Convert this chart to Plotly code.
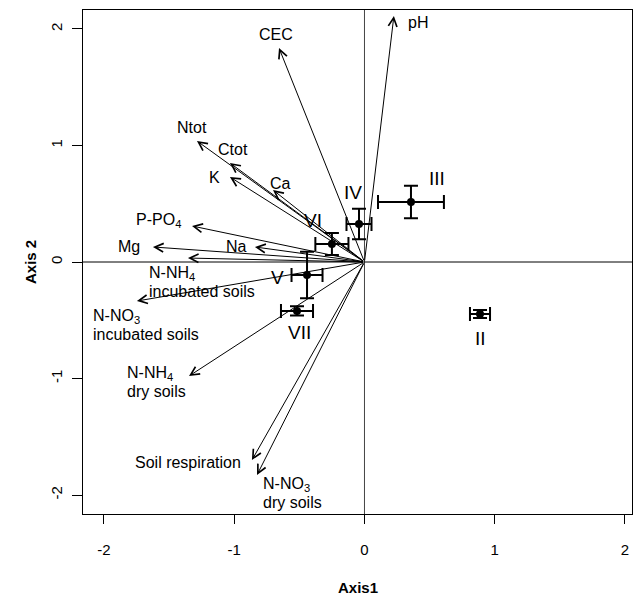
import plotly.graph_objects as go

# ---- data ----
var_labels = ["CEC", "pH", "Ntot", "Ctot", "K", "Ca", "P-PO<sub>4</sub>", "Mg", "Na",
              "N-NH<sub>4</sub><br>incubated soils", "N-NO<sub>3</sub><br>incubated soils",
              "N-NH<sub>4</sub><br>dry soils", "Soil respiration", "N-NO<sub>3</sub><br>dry soils"]
var_x = [-0.656, 0.226, -1.286, -1.033, -1.033, -0.702, -1.324, -1.624, -0.841,
         -1.355, -1.747, -1.347, -0.864, -0.825]
var_y = [1.837, 2.112, 1.039, 0.850, 0.730, 0.618, 0.309, 0.129, 0.129,
         0.034, -0.335, -0.979, -1.700, -1.828]

site_labels = ["II", "III", "IV", "V", "VI", "VII"]
site_x = [0.887, 0.357, -0.042, -0.441, -0.250, -0.518]
site_y = [-0.446, 0.515, 0.326, -0.112, 0.155, -0.420]
site_xerr = [0.077, 0.253, 0.096, 0.119, 0.127, 0.123]
site_yerr = [0.035, 0.140, 0.130, 0.200, 0.094, 0.040]

x_ticks = [-2, -1, 0, 1, 2]
x_ticktext = ["-2", "-1", "0", "1", "2"]
y_ticks = [-2, -1, 0, 1, 2]
y_ticktext = ["-2", "-1", "0", "1", "2"]

# ---- label placement (pixel offsets from the arrow tip / point) ----
var_label_place = [
    ("center", -3, 13), ("left", 12, -7), ("center", -5, 13), ("center", 3, 13),
    ("center", -15, -1), ("center", 7, 7), ("right", -9, 6), ("right", -11, 0),
    ("right", -6, 0), ("left", -41, -15), ("left", -46, -15), ("left", -64, 3),
    ("right", -9, -2), ("left", 4, -10),
]
site_label_place = [(0, -25), (26, 24), (-6, 32), (-30, -2), (-19, 23), (2, -22)]

FONT = "Liberation Sans, Arial, sans-serif"
LINE_GAP = 18

fig = go.Figure()

fig.add_trace(go.Scatter(
    x=site_x, y=site_y, mode="markers",
    marker=dict(size=8, color="black"),
    error_x=dict(type="data", array=site_xerr, thickness=2, width=7, color="black"),
    error_y=dict(type="data", array=site_yerr, thickness=2, width=7, color="black"),
    showlegend=False, hoverinfo="skip",
))

annotations = []
# arrows from origin to each variable
for vx, vy in zip(var_x, var_y):
    annotations.append(dict(
        x=vx, y=vy, xref="x", yref="y", ax=0, ay=0, axref="x", ayref="y",
        text="", showarrow=True, arrowhead=5, arrowsize=1.7, arrowwidth=1,
        arrowcolor="black", standoff=0, startstandoff=0,
    ))
# variable labels
for lab, vx, vy, (anc, dx, dy) in zip(var_labels, var_x, var_y, var_label_place):
    for i, line in enumerate(lab.split("<br>")):
        annotations.append(dict(
            x=vx, y=vy, xref="x", yref="y", text=line, showarrow=False,
            xanchor=anc, yanchor="middle", xshift=dx, yshift=dy - i * LINE_GAP,
            font=dict(family=FONT, size=16, color="black"),
        ))
# site labels
for lab, sx, sy, (dx, dy) in zip(site_labels, site_x, site_y, site_label_place):
    annotations.append(dict(
        x=sx, y=sy, xref="x", yref="y", text=lab, showarrow=False,
        xanchor="center", yanchor="middle", xshift=dx, yshift=dy,
        font=dict(family=FONT, size=19, color="black"),
    ))
# axis titles
annotations.append(dict(x=0.5, y=0, xref="paper", yref="paper", text="<b>Axis1</b>",
                        showarrow=False, xanchor="center", yanchor="middle", yshift=-73,
                        font=dict(family=FONT, size=15, color="black")))
annotations.append(dict(x=0, y=0.5, xref="paper", yref="paper", text="<b>Axis 2</b>",
                        showarrow=False, xanchor="center", yanchor="middle", xshift=-53,
                        textangle=-90, font=dict(family=FONT, size=15, color="black")))

shapes = [
    dict(type="line", xref="x", yref="paper", x0=0, x1=0, y0=0, y1=1,
         line=dict(color="#444444", width=1), layer="below"),
    dict(type="line", xref="paper", yref="y", x0=0, x1=1, y0=0, y1=0,
         line=dict(color="black", width=1), layer="below"),
]

fig.update_layout(
    width=633, height=596,
    margin=dict(l=83, r=1, t=10, b=82),
    plot_bgcolor="white", paper_bgcolor="white",
    annotations=annotations, shapes=shapes,
    xaxis=dict(range=[-2.161, 2.054], tickvals=x_ticks, ticktext=x_ticktext,
               ticks="outside", ticklen=9,
               tickcolor="black", showline=True, mirror=True, linecolor="black",
               linewidth=1, showgrid=False, zeroline=False, ticklabelstandoff=13,
               tickfont=dict(family=FONT, size=15, color="black")),
    yaxis=dict(range=[-2.163, 2.163], tickvals=y_ticks, ticktext=y_ticktext,
               ticks="outside", ticklen=10,
               tickcolor="black", showline=True, mirror=True, linecolor="black",
               linewidth=1, showgrid=False, zeroline=False, tickangle=-90,
               ticklabelstandoff=4,
               tickfont=dict(family=FONT, size=15, color="black")),
)

fig.write_html("out.html")
